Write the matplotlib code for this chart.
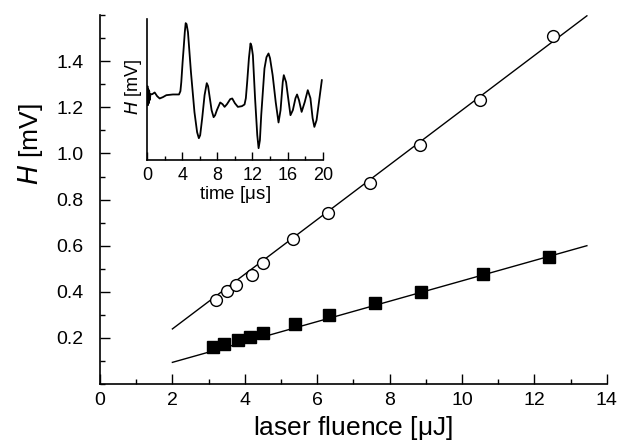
import numpy as np
import matplotlib
matplotlib.use("Agg")
import matplotlib.pyplot as plt
from matplotlib.ticker import MultipleLocator

plt.rcParams['font.family'] = ['Liberation Sans', 'DejaVu Sans']

# open circles (upper series)
open_x = [3.2, 3.5, 3.77, 4.21, 4.49, 5.33, 6.3, 7.46, 8.84, 10.5, 12.5]
open_y = [0.365, 0.404, 0.43, 0.474, 0.524, 0.63, 0.743, 0.874, 1.035, 1.23, 1.51]

# filled squares (lower series)
fill_x = [3.13, 3.43, 3.82, 4.15, 4.49, 5.4, 6.33, 7.6, 8.88, 10.57, 12.4]
fill_y = [0.159, 0.172, 0.19, 0.203, 0.22, 0.26, 0.30, 0.35, 0.40, 0.478, 0.549]

# straight fit lines (end points)
fit_x = [2.0, 13.45]
fit_open_y = [0.239, 1.597]
fit_fill_y = [0.094, 0.600]

# inset waveform (time in us, signal in arbitrary units)
wave_t = [0, 0.05, 0.1, 0.15, 0.2, 0.25, 0.3, 0.4, 0.6, 0.87, 1.15, 1.44, 1.8, 2.2, 2.95,
          3.64, 3.8, 3.9, 4.05, 4.17, 4.3, 4.4, 4.5, 4.66, 5.0, 5.4, 5.7, 5.9, 6.05,
          6.28, 6.55, 6.8, 6.95, 7.1, 7.35, 7.58, 7.75, 7.95, 8.33, 8.6, 8.83, 9.1, 9.47,
          9.7, 10.0, 10.34, 10.8, 11.1, 11.25, 11.4, 11.6, 11.78, 11.9, 12.05, 12.3,
          12.55, 12.7, 12.85, 13.0, 13.37, 13.6, 13.83, 14.0, 14.3, 14.65, 14.97, 15.2,
          15.45, 15.57, 15.83, 16.1, 16.33, 16.6, 16.9, 17.08, 17.3, 17.6, 17.95, 18.3,
          18.6, 18.85, 19.05, 19.3, 19.6, 19.9]
wave_v = [60, 74, 55, 71, 57, 69, 60, 66, 66, 67.7, 64, 61.7, 63, 65, 65.7,
          65.7, 69, 78, 98, 112, 128, 137, 136, 128, 88, 48, 28, 22, 25,
          42, 65, 77, 74, 65, 50, 43, 45, 50, 57.7, 56, 53.3, 56, 61,
          61.7, 57, 53.3, 54, 55.7, 62, 78, 102, 116.7, 114, 105, 61.7,
          25, 12, 20, 45, 91.7, 103, 106.7, 102, 85, 58, 37.7, 50,
          78, 85, 78, 60, 45, 50, 62, 65.7, 60, 48.3, 58, 70,
          62, 42, 33.3, 40, 60, 80]

fig = plt.figure(figsize=(6.23, 4.45), dpi=100)
ax = fig.add_axes([0.1605, 0.137, 0.8135, 0.829])

ax.plot(fit_x, fit_open_y, color='black', lw=1.0, zorder=2)
ax.plot(fit_x, fit_fill_y, color='black', lw=1.0, zorder=2)
ax.plot(open_x, open_y, linestyle='none', marker='o', ms=8.5, mfc='white',
        mec='black', mew=1.0, zorder=3)
ax.plot(fill_x, fill_y, linestyle='none', marker='s', ms=9, mfc='black',
        mec='black', mew=1.0, zorder=3)

ax.set_xlim(0, 14)
ax.set_ylim(0, 1.6)
ax.set_xticks(range(0, 15, 2))
ax.xaxis.set_minor_locator(MultipleLocator(1))
ax.set_yticks([0.2, 0.4, 0.6, 0.8, 1.0, 1.2, 1.4])
ax.set_yticklabels(['0.2', '0.4', '0.6', '0.8', '1.0', '1.2', '1.4'])
ax.yaxis.set_minor_locator(MultipleLocator(0.1))
ax.tick_params(which='major', direction='in', length=7, width=1, labelsize=14)
ax.tick_params(which='minor', direction='in', length=3.5, width=1)
ax.tick_params(axis='x', pad=6)
ax.tick_params(axis='y', pad=12)
ax.spines['top'].set_visible(False)
ax.spines['right'].set_visible(False)
for s in ['left', 'bottom']:
    ax.spines[s].set_linewidth(1.2)
ax.set_xlabel(r'laser fluence [$\mathregular{\mu}$J]', fontsize=19, labelpad=3)
ax.set_ylabel(r'$H$ [mV]', fontsize=19, labelpad=8, y=0.65)

# inset
ins = fig.add_axes([0.236, 0.640, 0.282, 0.317])
ins.plot(wave_t, wave_v, color='black', lw=1.3)
ins.set_xlim(0, 20)
ins.set_ylim(0, 141)
ins.set_xticks(range(0, 21, 4))
ins.xaxis.set_minor_locator(MultipleLocator(2))
ins.set_yticks([])
ins.tick_params(which='major', direction='in', length=6, width=1, labelsize=13, pad=5)
ins.tick_params(which='minor', direction='in', length=3, width=1)
ins.spines['top'].set_visible(False)
ins.spines['right'].set_visible(False)
for s in ['left', 'bottom']:
    ins.spines[s].set_linewidth(1.2)
ins.patch.set_alpha(0)
ins.set_xlabel(r'time [$\mathregular{\mu}$s]', fontsize=13.5, labelpad=0)
ins.set_ylabel(r'$H$ [mV]', fontsize=13, labelpad=2, y=0.52)

fig.savefig('out.png', dpi=100)
